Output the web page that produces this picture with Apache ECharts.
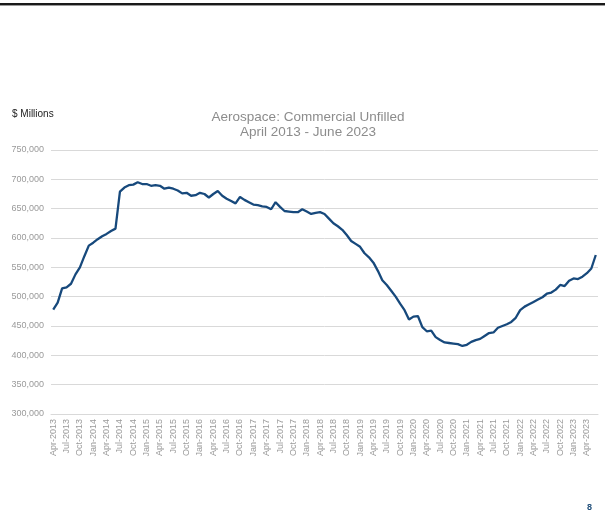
<!DOCTYPE html>
<html>
<head>
<meta charset="utf-8">
<script src="https://cdn.jsdelivr.net/npm/echarts@6/dist/echarts.min.js"></script>
<style>
html,body{margin:0;padding:0;background:#fff;}
#chart{width:605px;height:524px;}
</style>
</head>
<body>
<div id="chart"></div>
<script>
// Monthly categories April 2013 - June 2023
const monthNames = ['Jan','Feb','Mar','Apr','May','Jun','Jul','Aug','Sep','Oct','Nov','Dec'];
const categories = [];
for (let y = 2013; y <= 2023; y++) {
  for (let m = 0; m < 12; m++) {
    if (y === 2013 && m < 3) continue;
    if (y === 2023 && m > 5) continue;
    categories.push(monthNames[m] + '-' + y);
  }
}

// Commercial unfilled orders, $ millions
const unfilled = [
  478000, 490000, 514000, 516000, 522000, 538000, 550000, 569000, 587000, 592000,
  598000, 603000, 607000, 612000, 616000, 679000, 686000, 690000, 691000, 695000,
  692000, 692000, 689000, 690000, 689000, 684000, 686000, 684000, 681000, 676000,
  677000, 672000, 673000, 677000, 675000, 669000, 675000, 680000, 672000, 667000,
  663000, 659000, 670000, 665000, 661000, 657000, 656000, 654000, 653000, 649000,
  661000, 653000, 646000, 645000, 644000, 644000, 649000, 645000, 641000, 643000,
  644000, 641000, 633000, 625000, 620000, 614000, 605000, 595000, 590000, 585000,
  574000, 567000, 558000, 544000, 528000, 520000, 510000, 500000, 488000, 477000,
  461000, 466000, 467000, 448000, 441000, 442000, 431000, 426000, 422000, 421000,
  420000, 419000, 416000, 418000, 423000, 426000, 428000, 433000, 438000, 439000,
  447000, 450000, 453000, 457000, 464000, 477000, 483000, 487000, 491000, 495000,
  499000, 505000, 507000, 512000, 520000, 518000, 527000, 531000, 530000, 534000,
  540000, 548000, 571000
];

const yTicks = { min: 300000, max: 750000, step: 50000 };
const titleLines = ['Aerospace: Commercial Unfilled', 'April 2013 - June 2023'];
const unitLabel = '$ Millions';
const pageNumber = '8';

const chart = echarts.init(document.getElementById('chart'), null, { renderer: 'canvas' });
const font = '"Liberation Sans", Arial, sans-serif';

chart.setOption({
  backgroundColor: '#ffffff',
  animation: false,
  textStyle: { fontFamily: font },
  graphic: [
    { type: 'rect', shape: { x: 0, y: 3, width: 605, height: 2 }, style: { fill: '#1a1a1a' } },
    { type: 'rect', shape: { x: 0, y: 5, width: 605, height: 1 }, style: { fill: '#9a9a9a' } },
    { type: 'text', x: 308, y: 110, style: { text: titleLines.join('\n'), font: '13.5px ' + font, fill: '#8c8c8c', align: 'center', verticalAlign: 'top', lineHeight: 15 } },
    { type: 'text', left: 12, top: 109, style: { text: unitLabel, font: '10px ' + font, fill: '#222222' } },
    { type: 'text', left: 587, top: 503, style: { text: pageNumber, font: 'bold 9px ' + font, fill: '#1f4e79' } }
  ],
  grid: { left: 51, right: 7, top: 150, bottom: 110, containLabel: false },
  xAxis: {
    type: 'category',
    data: categories,
    boundaryGap: true,
    axisLine: { show: true, lineStyle: { color: '#d9d9d9', width: 1 } },
    axisTick: { show: false },
    axisLabel: {
      interval: 2,
      rotate: 90,
      fontSize: 9,
      color: '#9a9a9a',
      margin: 5,
      fontFamily: font
    },
    splitLine: { show: false }
  },
  yAxis: {
    type: 'value',
    min: yTicks.min,
    max: yTicks.max,
    interval: yTicks.step,
    axisLine: { show: false },
    axisTick: { show: false },
    axisLabel: {
      fontSize: 9,
      color: '#9a9a9a',
      margin: 7,
      fontFamily: font,
      formatter: v => v.toLocaleString('en-US')
    },
    splitLine: { show: true, lineStyle: { color: '#d9d9d9', width: 1 } }
  },
  series: [{
    type: 'line',
    data: unfilled,
    showSymbol: false,
    symbol: 'none',
    lineStyle: { color: '#17497c', width: 2.3 },
    itemStyle: { color: '#17497c' }
  }]
});
</script>
</body>
</html>
